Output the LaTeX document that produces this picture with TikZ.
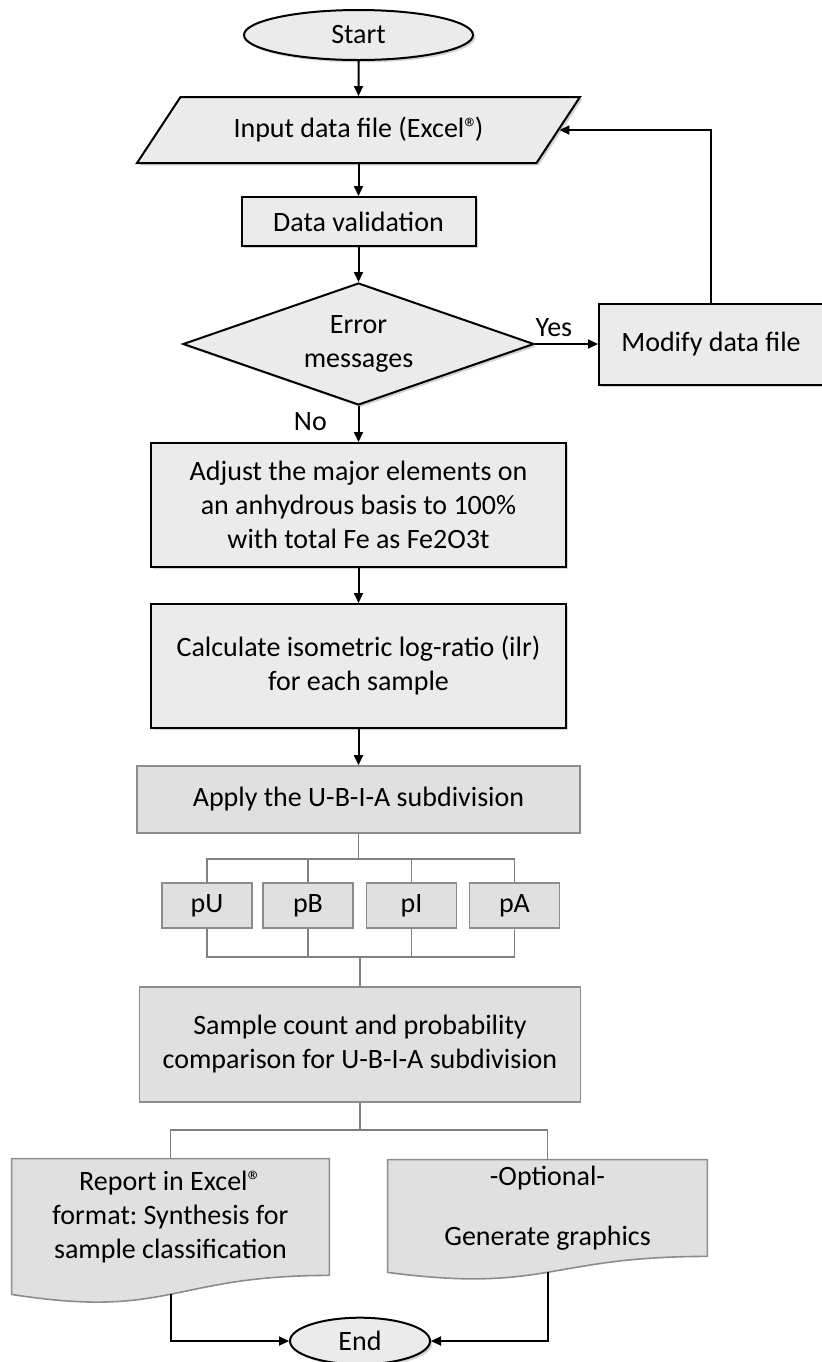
\documentclass[tikz,border=0pt]{standalone}
\usepackage{fontspec}
\setmainfont{Carlito}
\usetikzlibrary{shapes.geometric,arrows.meta,calc,shadows,backgrounds}
\frenchspacing

% document symbol: box with a wavy bottom edge
\newcommand\docpath[3]{%
  \draw[docline] (#1.south east) -- (#1.north east) -- (#1.north west)
    -- ($(#1.south west)+(0,#2)$)
    .. controls ($(#1.south)+(0,#3)$) and (#1.south) .. (#1.south east) -- cycle;}

\begin{document}
\begin{tikzpicture}[x=0.5pt, y=-0.5pt,
  every node/.style={font=\fontsize{14}{17}\selectfont},
  boxshadow/.style={drop shadow={shadow xshift=1.2pt, shadow yshift=-1.2pt, opacity=0.35}},
  terminal/.style={ellipse, draw, line width=1pt, fill=black!8, boxshadow},
  io/.style={trapezium, trapezium left angle=50, trapezium right angle=130,
    trapezium stretches=true, draw, line width=1pt, fill=black!8, boxshadow},
  process/.style={rectangle, draw, line width=1pt, fill=black!8, align=center, boxshadow},
  decision/.style={diamond, draw, line width=1pt, fill=black!8, align=center,
    inner sep=0pt, aspect=2.9, boxshadow},
  subbox/.style={rectangle, draw=black!45, line width=0.8pt, fill=black!12, align=center},
  docbox/.style={rectangle, align=center, inner sep=2pt},
  docline/.style={draw=black!45, line width=0.8pt, fill=black!12},
  flowline/.style={line width=1pt, -{Triangle[length=5pt, width=4.5pt]}},
  forkline/.style={draw=black!50, line width=0.8pt}]

\path[use as bounding box] (0,0) rectangle (821,1362);

\def\xc{358.5}; % main column
\def\yp{905.5}; % row of p-boxes

% upper part: input and validation loop
\node[terminal, minimum width=114.5pt, minimum height=25pt] (start) at (\xc,35) {Start};
\node[io, minimum width=221.5pt, minimum height=33pt] (input) at (\xc,130)
  {Input data file (Excel®\kern-1.8pt)};
\node[process, minimum width=117pt, minimum height=24.5pt] (valid) at (\xc,221.5) {Data validation};
\node[decision, minimum width=175.5pt, minimum height=61pt] (check) at (\xc,344) {Error\\messages};
\node[process, minimum width=112pt, minimum height=40.5pt] (modify) at (711,344) {Modify data file};

% processing
\node[process, minimum width=207.5pt, minimum height=62pt] (adjust) at (\xc,505)
  {Adjust the major elements on\\an anhydrous basis to 100\%\\with total Fe as Fe2O3t};
\node[process, minimum width=207.5pt, minimum height=62pt] (calc) at (\xc,666)
  {Calculate isometric log-ratio (ilr)\\for each sample};
\node[subbox, minimum width=221.5pt, minimum height=33.5pt] (apply) at (\xc,799.5)
  {Apply the U-B-I-A subdivision};

\foreach \n/\x in {pU/207, pB/308, pI/411.5, pA/514.5}
  \node[subbox, minimum width=45pt, minimum height=22.5pt] (\n) at (\x,\yp) {\n};

\node[subbox, minimum width=220.5pt, minimum height=57.5pt] (sample) at (360,1044.5)
  {Sample count and probability\\comparison for U-B-I-A subdivision};

% outputs
\node[docbox, minimum width=158.5pt, minimum height=58pt] (report) at (170.5,1217)
  {Report in Excel®\\format: Synthesis for\\sample classification};
\node[docbox, minimum width=159.5pt, minimum height=48pt] (option) at (547.5,1208)
  {-Optional-\\[13pt]Generate graphics};
\node[terminal, minimum width=70pt, minimum height=23pt] (finish) at (360,1341) {End};

\begin{pgfonlayer}{background}
\docpath{report}{19}{44}
\docpath{option}{16}{37}
\end{pgfonlayer}

% arrows
\draw[flowline] (start) -- (input);
\draw[flowline] (input) -- (valid);
\draw[flowline] (valid) -- (check);
\draw[flowline] (check.east) -- node[above, pos=0.3] {Yes} (modify.west);
\draw[flowline] (modify.north) |- (input.east);
\draw[flowline] (check.south) -- node[left=12pt, pos=0.42] {No} (adjust.north);
\draw[flowline] (adjust) -- (calc);
\draw[flowline] (calc) -- (apply);

% split into the four groups and merge again
\path (apply.south) ++(0,25) coordinate (split);
\path (sample.north) ++(0,-29) coordinate (merge);
\draw[forkline] (apply.south) -- (split);
\draw[forkline] (pU.north) |- (split) -| (pA.north);
\draw[forkline] (pU.south) |- (merge) -| (pA.south);
\foreach \n in {pB, pI} {
  \draw[forkline] (\n.north) -- (\n.north |- split);
  \draw[forkline] (\n.south) -- (\n.south |- merge);
}
\draw[forkline] (merge) -- (sample.north);

\path (sample.south) ++(0,27) coordinate (spread);
\draw[forkline] (sample.south) -- (spread);
\draw[forkline] (report.north) |- (spread) -| (option.north);

% both outputs end the run
\path (report.south) ++(0,19) coordinate (repfoot);
\path (option.south) ++(0,16) coordinate (optfoot);
\draw[flowline] (repfoot) |- (finish.west);
\draw[flowline] (optfoot) |- (finish.east);

\end{tikzpicture}
\end{document}
